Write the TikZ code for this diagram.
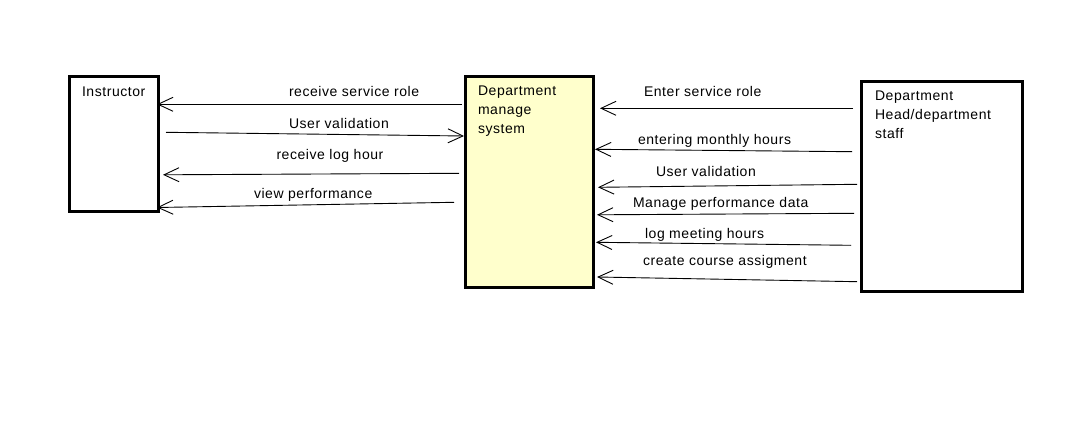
\documentclass[tikz,border=0pt]{standalone}
\usepackage{fontspec}
\setmainfont{Liberation Sans}[LetterSpace=4]
\usetikzlibrary{arrows.meta}
\definecolor{sysfill}{HTML}{FFFFCC}
\begin{document}
\begin{tikzpicture}[x=1pt,y=-1pt,
  box/.style={draw=black, line width=2.5pt, inner sep=0pt, outer sep=0pt},
  txt/.style={anchor=base west, inner sep=0pt, outer sep=0pt, font=\fontsize{14}{19}\selectfont},
  btxt/.style={anchor=north west, inner sep=0pt, outer sep=0pt, align=left, font=\fontsize{14}{19}\selectfont},
  arr/.style={line width=0.9pt, -{Straight Barb[length=15pt,width=14pt,line width=0.9pt]}}]
\useasboundingbox (0,0) rectangle (1082,433);
% boxes
\node[box, minimum width=89pt, minimum height=135pt] (inst) at (114,144) {};
\node[box, fill=sysfill, minimum width=128pt, minimum height=211pt] (sys) at (529.5,182) {};
\node[box, minimum width=161pt, minimum height=210pt] (head) at (942,186.7) {};
% box texts
\node[txt] (insttxt) at (82,96.5) {Instructor};
\node[btxt] (systxt) at (478,86) {Department\\manage\\system};
\node[btxt] (headtxt) at (875,91) {Department\\Head/department\\staff};
% left arrows
\coordinate (l1s) at (462,104.3); \coordinate (l1e) at (157,104.3);
\coordinate (l2s) at (166,132.3); \coordinate (l2e) at (464,136);
\coordinate (l3s) at (459,173.3); \coordinate (l3e) at (163,174.8);
\coordinate (l4s) at (454,202.3); \coordinate (l4e) at (157,207.5);
\draw[arr] (l1s) -- (l1e);
\draw[arr] (l2s) -- (l2e);
\draw[arr] (l3s) -- (l3e);
\draw[arr] (l4s) -- (l4e);
\node[txt] (lt1) at (289,97) {receive service role};
\node[txt] (lt2) at (289,128.3) {User validation};
\node[txt] (lt3) at (276.5,159.5) {receive log hour};
\node[txt] (lt4) at (254,198.3) {view performance};
% right arrows
\coordinate (r1s) at (853,108.3); \coordinate (r1e) at (600,108.3);
\coordinate (r2s) at (852,151.7); \coordinate (r2e) at (595,149.3);
\coordinate (r3s) at (857,184.3); \coordinate (r3e) at (598,187.3);
\coordinate (r4s) at (854,213.3); \coordinate (r4e) at (597,214.8);
\coordinate (r5s) at (851,245.3); \coordinate (r5e) at (596,242.3);
\coordinate (r6s) at (857,281.7); \coordinate (r6e) at (597,277);
\draw[arr] (r1s) -- (r1e);
\draw[arr] (r2s) -- (r2e);
\draw[arr] (r3s) -- (r3e);
\draw[arr] (r4s) -- (r4e);
\draw[arr] (r5s) -- (r5e);
\draw[arr] (r6s) -- (r6e);
\node[txt] (rt1) at (644,96.7) {Enter service role};
\node[txt] (rt2) at (638,145) {entering monthly hours};
\node[txt] (rt3) at (656,176.7) {User validation};
\node[txt] (rt4) at (633,207.7) {Manage performance data};
\node[txt] (rt5) at (645,238.3) {log meeting hours};
\node[txt] (rt6) at (643,265) {create course assigment};
\end{tikzpicture}
\end{document}
